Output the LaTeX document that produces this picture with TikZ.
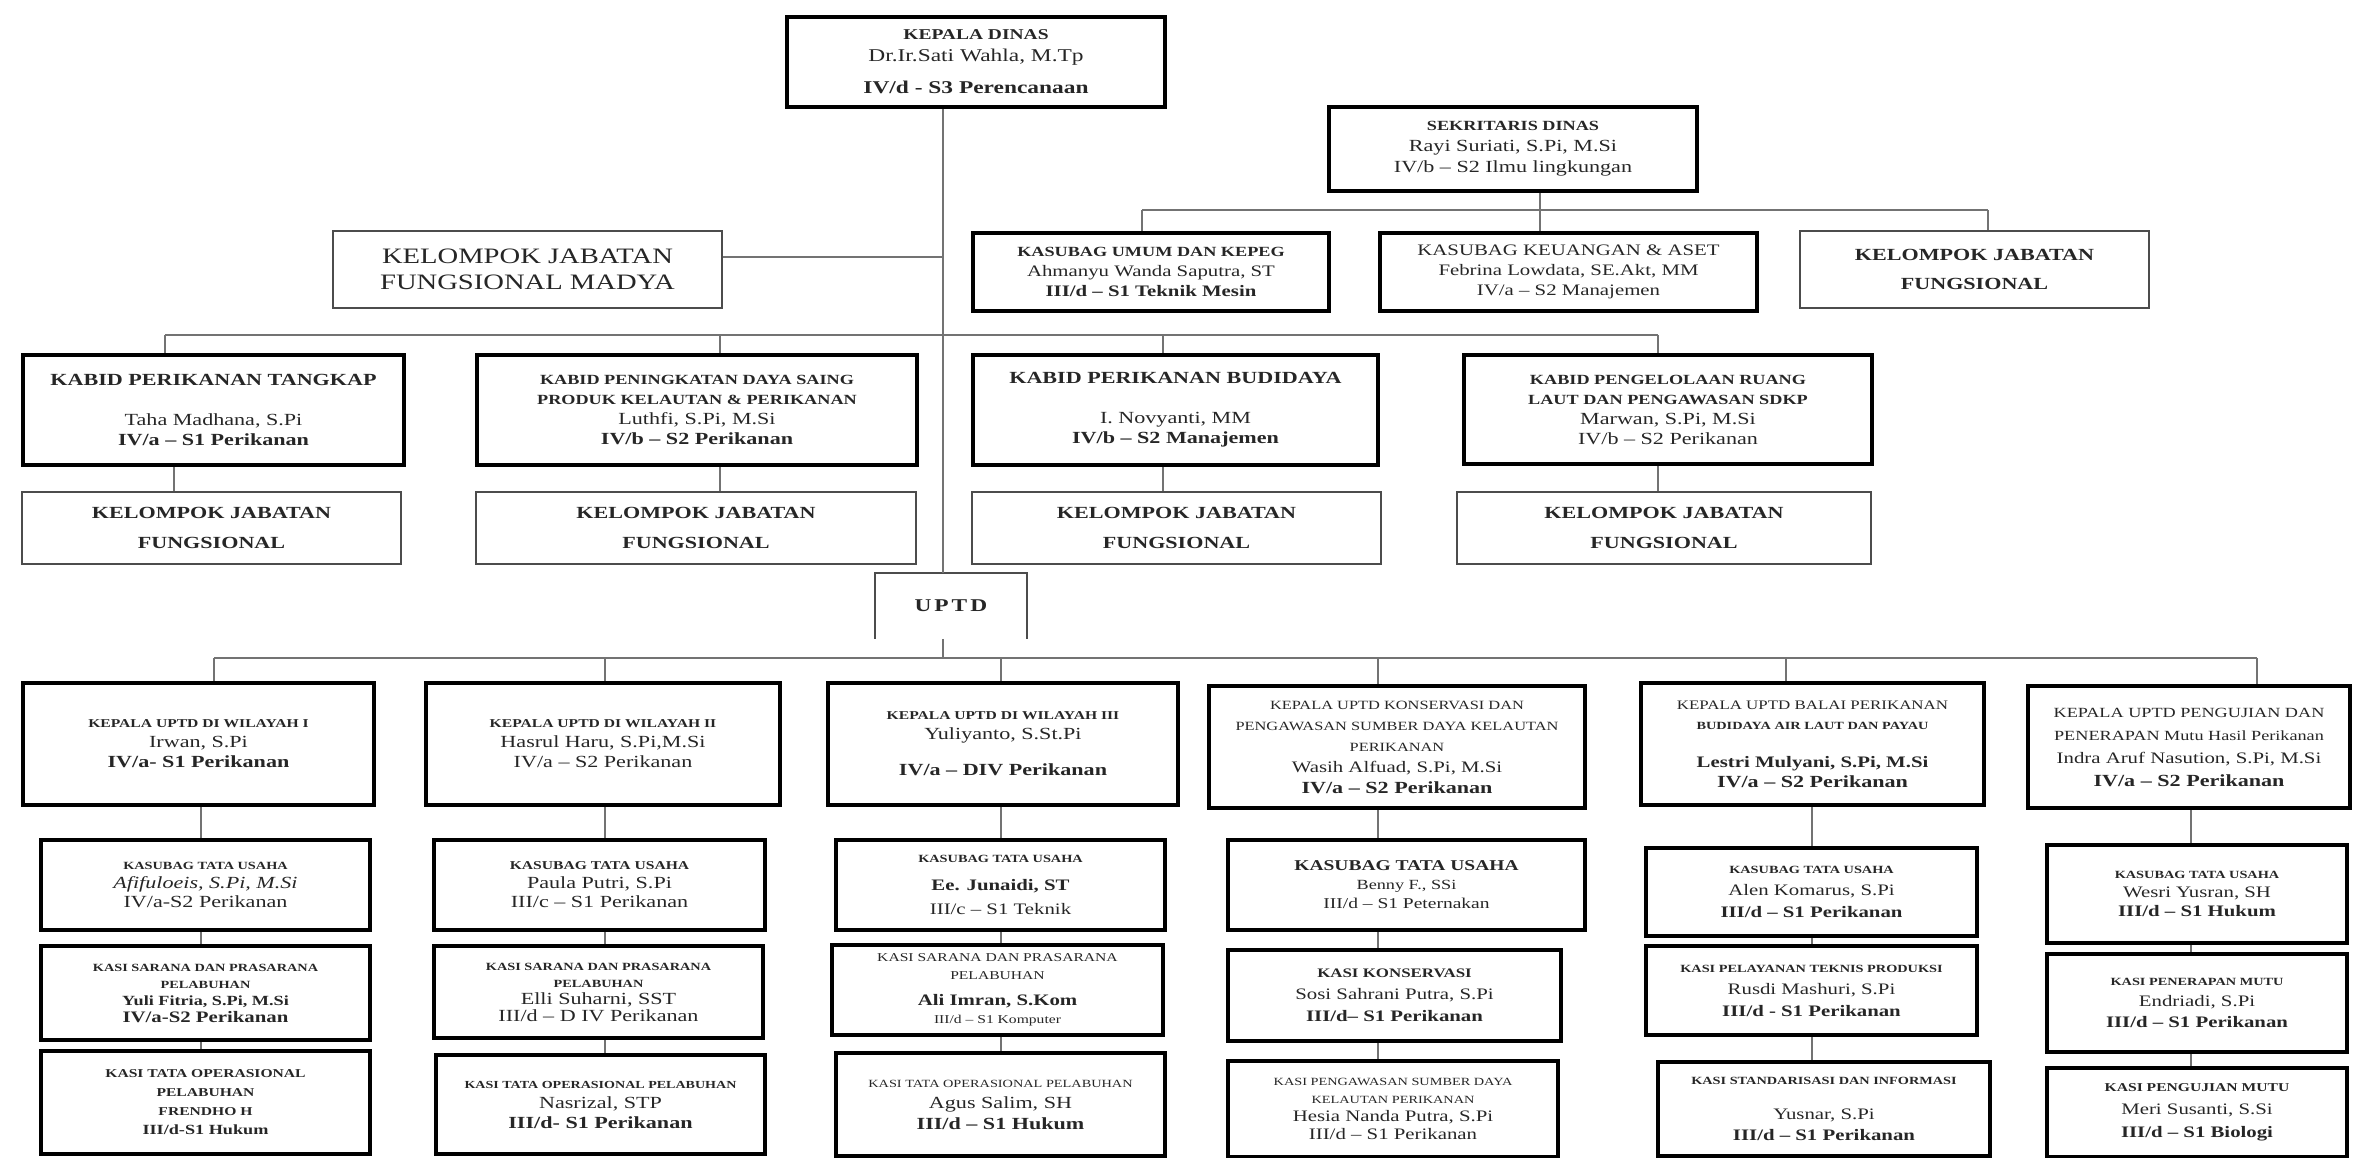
\documentclass[tikz,border=0pt]{standalone}
\usepackage{fontspec}
\setmainfont{Liberation Serif}[FakeStretch=1.3]
\newcommand{\sz}[2]{\fontsize{#1}{#2}\selectfont}
\newcommand{\ob}[7]{\node[#6, anchor=north west, minimum width={(#4-#2)*0.5pt}, minimum height={(#5-#3)*0.5pt}] (#1) at (#2,#3) {#7};}
\begin{document}
\begin{tikzpicture}[x=0.5pt,y=-0.5pt,
  tb/.style={draw=black, line width=2pt, align=center, inner sep=1pt, text=black!85},
  nb/.style={draw=black!70, line width=1pt, align=center, inner sep=1pt, text=black!85},
  ub/.style={align=center, inner sep=1pt, text=black!85},
  conn/.style={draw=black!55, line width=1pt},
  thinline/.style={draw=black!70, line width=1pt}]
\useasboundingbox (0,0) rectangle (2355,1157);
% ---------- top level ----------
\ob{kepala}{785}{15}{1163}{105}{tb,font=\sz{9}{11}}{{\sz{7.5}{11}\bfseries KEPALA DINAS}\\Dr.Ir.Sati Wahla, M.Tp\\[5pt]{\bfseries IV/d - S3 Perencanaan}}
\ob{sekr}{1327}{105}{1695}{189}{tb,font=\sz{8.5}{10.5}}{{\sz{7}{10.5}\bfseries SEKRITARIS DINAS}\\Rayi Suriati, S.Pi, M.Si\\IV/b -- S2 Ilmu lingkungan}
\ob{madya}{332}{230}{721}{307}{nb,font=\sz{11}{13}}{KELOMPOK JABATAN\\FUNGSIONAL MADYA}
\ob{umum}{971}{231}{1327}{309}{tb,font=\sz{8}{10}}{{\sz{7}{10}\bfseries KASUBAG UMUM DAN KEPEG}\\Ahmanyu Wanda Saputra, ST\\{\bfseries III/d -- S1 Teknik Mesin}}
\ob{keu}{1378}{231}{1755}{309}{tb,font=\sz{8}{10}}{KASUBAG KEUANGAN \& ASET\\Febrina Lowdata, SE.Akt, MM\\IV/a -- S2 Manajemen}
\ob{kelr}{1799}{230}{2148}{307}{nb,font={\sz{8.5}{14.5}\bfseries}}{KELOMPOK JABATAN\\FUNGSIONAL}
% ---------- kabid ----------
\ob{kabid1}{21}{353}{402}{463}{tb,font=\sz{8.5}{10}}{{\bfseries KABID PERIKANAN TANGKAP}\\[10pt]Taha Madhana, S.Pi\\{\bfseries IV/a -- S1 Perikanan}}
\ob{kabid2}{475}{353}{915}{463}{tb,font=\sz{8.5}{10}}{{\sz{7}{10}\bfseries KABID PENINGKATAN DAYA SAING}\\{\sz{7}{10}\bfseries PRODUK KELAUTAN \& PERIKANAN}\\Luthfi, S.Pi, M.Si\\{\bfseries IV/b -- S2 Perikanan}}
\ob{kabid3}{971}{353}{1376}{463}{tb,font=\sz{8.5}{10}}{{\bfseries KABID PERIKANAN BUDIDAYA}\\[10pt]I. Novyanti, MM\\{\bfseries IV/b -- S2 Manajemen}}
\ob{kabid4}{1462}{353}{1870}{462}{tb,font=\sz{8.5}{10}}{{\sz{7}{10}\bfseries KABID PENGELOLAAN RUANG}\\{\sz{7}{10}\bfseries LAUT DAN PENGAWASAN SDKP}\\Marwan, S.Pi, M.Si\\IV/b -- S2 Perikanan}
\ob{kel1}{21}{491}{400}{563}{nb,font={\sz{8.5}{15}\bfseries}}{KELOMPOK JABATAN\\FUNGSIONAL}
\ob{kel2}{475}{491}{915}{563}{nb,font={\sz{8.5}{15}\bfseries}}{KELOMPOK JABATAN\\FUNGSIONAL}
\ob{kel3}{971}{491}{1380}{563}{nb,font={\sz{8.5}{15}\bfseries}}{KELOMPOK JABATAN\\FUNGSIONAL}
\ob{kel4}{1456}{491}{1870}{563}{nb,font={\sz{8.5}{15}\bfseries}}{KELOMPOK JABATAN\\FUNGSIONAL}
% ---------- UPTD ----------
\ob{uptd}{875}{573}{1026}{638}{ub,font={\sz{9}{11}\bfseries}}{U\,P\,T\,D}
\draw[thinline] (uptd.south west) -- (uptd.north west) -- (uptd.north east) -- (uptd.south east);
% ---------- heads ----------
\ob{head1}{21}{681}{372}{803}{tb,font=\sz{8.5}{10}}{{\sz{6}{10}\bfseries KEPALA UPTD DI WILAYAH I}\\Irwan, S.Pi\\{\bfseries IV/a- S1 Perikanan}}
\ob{head2}{424}{681}{778}{803}{tb,font=\sz{8.5}{10}}{{\sz{6}{10}\bfseries KEPALA UPTD DI WILAYAH II}\\Hasrul Haru, S.Pi,M.Si\\IV/a -- S2 Perikanan}
\ob{head3}{826}{681}{1176}{803}{tb,font=\sz{8.5}{10}}{{\sz{6}{10}\bfseries KEPALA UPTD DI WILAYAH III}\\Yuliyanto, S.St.Pi\\[8pt]{\bfseries IV/a -- DIV Perikanan}}
\ob{head4}{1207}{684}{1583}{806}{tb,font=\sz{6.3}{10.5}}{KEPALA UPTD KONSERVASI DAN\\PENGAWASAN SUMBER DAYA KELAUTAN\\PERIKANAN\\{\sz{8}{10.5}Wasih Alfuad, S.Pi, M.Si}\\{\sz{8.5}{10.5}\bfseries IV/a -- S2 Perikanan}}
\ob{head5}{1639}{681}{1982}{803}{tb,font=\sz{8.5}{10}}{{\sz{6.5}{9}KEPALA UPTD BALAI PERIKANAN}\\{\sz{5.5}{9}\bfseries BUDIDAYA AIR LAUT DAN PAYAU}\\[9pt]{\bfseries\sz{8}{10}Lestri Mulyani, S.Pi, M.Si}\\{\bfseries IV/a -- S2 Perikanan}}
\ob{head6}{2026}{684}{2348}{806}{tb,font=\sz{7}{11.5}}{KEPALA UPTD PENGUJIAN DAN\\PENERAPAN Mutu Hasil Perikanan\\{\sz{8}{11.5}Indra Aruf Nasution, S.Pi, M.Si}\\{\sz{8.5}{11.5}\bfseries IV/a -- S2 Perikanan}}
% ---------- column 1 ----------
\ob{ka1}{39}{838}{368}{928}{tb,font=\sz{8.5}{9.5}}{{\sz{5.5}{9.5}\bfseries KASUBAG TATA USAHA}\\{\itshape Afifuloeis, S.Pi, M.Si}\\IV/a-S2 Perikanan}
\ob{sa1}{39}{944}{368}{1038}{tb,font=\sz{8}{8.5}}{{\sz{5.5}{8.5}\bfseries KASI SARANA DAN PRASARANA}\\{\sz{5.5}{8.5}\bfseries PELABUHAN}\\{\sz{7}{8.5}\bfseries Yuli Fitria, S.Pi, M.Si}\\{\bfseries IV/a-S2 Perikanan}}
\ob{ta1}{39}{1049}{368}{1152}{tb,font=\sz{7}{9.5}}{{\sz{6}{9.5}\bfseries KASI TATA OPERASIONAL}\\{\sz{6}{9.5}\bfseries PELABUHAN}\\{\sz{6}{9.5}\bfseries FRENDHO H}\\{\bfseries III/d-S1 Hukum}}
% ---------- column 2 ----------
\ob{ka2}{432}{838}{763}{928}{tb,font=\sz{8.5}{9.5}}{{\sz{6}{9.5}\bfseries KASUBAG TATA USAHA}\\Paula Putri, S.Pi\\III/c -- S1 Perikanan}
\ob{sa2}{432}{944}{761}{1036}{tb,font=\sz{8.5}{8.5}}{{\sz{5.5}{7.5}\bfseries KASI SARANA DAN PRASARANA}\\{\sz{5.5}{7.5}\bfseries PELABUHAN}\\Elli Suharni, SST\\III/d -- D IV Perikanan}
\ob{ta2}{434}{1053}{763}{1152}{tb,font=\sz{8.5}{10}}{{\sz{5.4}{10}\bfseries KASI TATA OPERASIONAL PELABUHAN}\\Nasrizal, STP\\{\bfseries III/d- S1 Perikanan}}
% ---------- column 3 ----------
\ob{ka3}{834}{838}{1163}{928}{tb,font=\sz{8}{10}}{{\sz{5.5}{10}\bfseries KASUBAG TATA USAHA}\\[4pt]{\bfseries Ee. Junaidi, ST}\\[2pt]III/c -- S1 Teknik}
\ob{sa3}{830}{943}{1161}{1033}{tb,font=\sz{8}{9}}{{\sz{6}{7.5}KASI SARANA DAN PRASARANA}\\{\sz{6}{7.5}PELABUHAN}\\[4pt]{\bfseries Ali Imran, S.Kom}\\{\sz{6}{9}III/d -- S1 Komputer}}
\ob{ta3}{834}{1051}{1163}{1154}{tb,font=\sz{8.5}{10.5}}{{\sz{5.5}{10.5}KASI TATA OPERASIONAL PELABUHAN}\\Agus Salim, SH\\{\bfseries III/d -- S1 Hukum}}
% ---------- column 4 ----------
\ob{ka4}{1226}{838}{1583}{928}{tb,font=\sz{7.5}{9.5}}{{\bfseries KASUBAG TATA USAHA}\\{\sz{7}{9.5}Benny F., SSi}\\III/d -- S1 Peternakan}
\ob{sa4}{1226}{948}{1559}{1039}{tb,font=\sz{8}{11}}{{\sz{6.5}{11}\bfseries KASI KONSERVASI}\\Sosi Sahrani Putra, S.Pi\\{\bfseries III/d-- S1 Perikanan}}
\ob{ta4}{1226}{1059}{1556}{1155}{tb,font=\sz{8}{9}}{{\sz{5.5}{9}KASI PENGAWASAN SUMBER DAYA}\\{\sz{5.5}{9}KELAUTAN PERIKANAN}\\Hesia Nanda Putra, S.Pi\\III/d -- S1 Perikanan}
% ---------- column 5 ----------
\ob{ka5}{1644}{846}{1975}{934}{tb,font=\sz{8}{11}}{{\sz{5.5}{11}\bfseries KASUBAG TATA USAHA}\\Alen Komarus, S.Pi\\{\bfseries III/d -- S1 Perikanan}}
\ob{sa5}{1644}{944}{1975}{1033}{tb,font=\sz{8}{11}}{{\sz{5.5}{11}\bfseries KASI PELAYANAN TEKNIS PRODUKSI}\\Rusdi Mashuri, S.Pi\\{\bfseries III/d - S1 Perikanan}}
\ob{ta5}{1656}{1060}{1988}{1154}{tb,font=\sz{8}{10.5}}{{\sz{5.5}{10.5}\bfseries KASI STANDARISASI DAN INFORMASI}\\[7pt]Yusnar, S.Pi\\{\bfseries III/d -- S1 Perikanan}}
% ---------- column 6 ----------
\ob{ka6}{2045}{843}{2345}{941}{tb,font=\sz{8}{9.5}}{{\sz{5.5}{9.5}\bfseries KASUBAG TATA USAHA}\\Wesri Yusran, SH\\{\bfseries III/d -- S1 Hukum}}
\ob{sa6}{2045}{952}{2345}{1050}{tb,font=\sz{8}{10.5}}{{\sz{5.5}{10.5}\bfseries KASI PENERAPAN MUTU}\\Endriadi, S.Pi\\{\bfseries III/d -- S1 Perikanan}}
\ob{ta6}{2045}{1066}{2345}{1155}{tb,font=\sz{8}{11.5}}{{\sz{6}{11.5}\bfseries KASI PENGUJIAN MUTU}\\Meri Susanti, S.Si\\{\bfseries III/d -- S1 Biologi}}
% ---------- connector coordinates ----------
\coordinate (mv) at (943,0);
\coordinate (md) at (943,257);
\coordinate (sb1) at (1142,210);
\coordinate (sb2) at (1540,210);
\coordinate (sb3) at (1988,210);
\coordinate (kb1) at (165,335);
\coordinate (kb2) at (720,335);
\coordinate (kb3) at (1163,335);
\coordinate (kb4) at (1658,335);
\coordinate (kx1) at (174,0);
\coordinate (kx2) at (720,0);
\coordinate (kx3) at (1163,0);
\coordinate (kx4) at (1658,0);
\coordinate (ub) at (943,658);
\coordinate (u1) at (214,658);
\coordinate (u2) at (605,658);
\coordinate (u3) at (1001,658);
\coordinate (u4) at (1378,658);
\coordinate (u5) at (1786,658);
\coordinate (u6) at (2257,658);
\coordinate (cx1) at (201,0);
\coordinate (cx2) at (605,0);
\coordinate (cx3) at (1001,0);
\coordinate (cx4) at (1378,0);
\coordinate (cx5) at (1812,0);
\coordinate (cx6) at (2191,0);
% ---------- connectors ----------
\draw[conn] (kepala.south -| mv) -- (uptd.north -| mv);
\draw[conn] (madya.east |- md) -- (md);
\draw[conn] (sekr.south -| sb2) -- (keu.north -| sb2);
\draw[conn] (sb1) -- (sb3);
\draw[conn] (sb1) -- (umum.north -| sb1);
\draw[conn] (sb3) -- (kelr.north -| sb3);
\draw[conn] (kb1) -- (kb4);
\draw[conn] (kb1) -- (kabid1.north -| kb1);
\draw[conn] (kb2) -- (kabid2.north -| kb2);
\draw[conn] (kb3) -- (kabid3.north -| kb3);
\draw[conn] (kb4) -- (kabid4.north -| kb4);
\draw[conn] (kabid1.south -| kx1) -- (kel1.north -| kx1);
\draw[conn] (kabid2.south -| kx2) -- (kel2.north -| kx2);
\draw[conn] (kabid3.south -| kx3) -- (kel3.north -| kx3);
\draw[conn] (kabid4.south -| kx4) -- (kel4.north -| kx4);
\draw[conn] (uptd.south -| mv) -- (ub);
\draw[conn] (u1) -- (u6);
\draw[conn] (u1) -- (head1.north -| u1);
\draw[conn] (u2) -- (head2.north -| u2);
\draw[conn] (u3) -- (head3.north -| u3);
\draw[conn] (u4) -- (head4.north -| u4);
\draw[conn] (u5) -- (head5.north -| u5);
\draw[conn] (u6) -- (head6.north -| u6);
\foreach \c/\h in {1/head1,2/head2,3/head3,4/head4,5/head5,6/head6}{
  \draw[conn] (\h.south -| cx\c) -- (ka\c.north -| cx\c);
  \draw[conn] (ka\c.south -| cx\c) -- (sa\c.north -| cx\c);
  \draw[conn] (sa\c.south -| cx\c) -- (ta\c.north -| cx\c);
}
\end{tikzpicture}
\end{document}
